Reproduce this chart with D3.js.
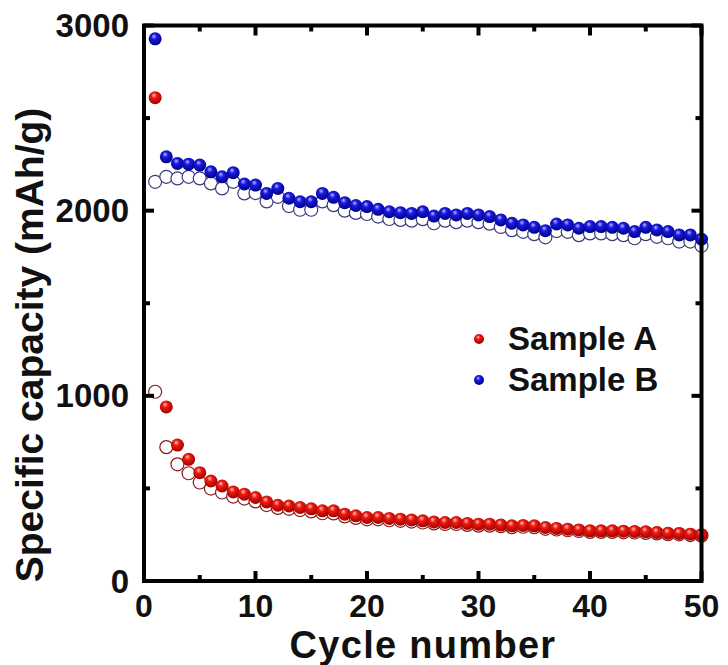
<!DOCTYPE html>
<html>
  <head>
    <meta charset="utf-8">
    <title>Specific capacity vs cycle number</title>
    <script src="https://d3js.org/d3.v7.min.js"></script>
    <style>
      body { margin: 0; background: #fff; }
      text { font-family: "Liberation Sans", Arial, sans-serif; font-weight: bold; fill: #111; }
    </style>
  </head>
  <body>
<script>
// cycle index (x) and capacities in mAh/g
var cycles = [1,2,3,4,5,6,7,8,9,10,11,12,13,14,15,16,17,18,19,20,
              21,22,23,24,25,26,27,28,29,30,31,32,33,34,35,36,37,38,39,40,
              41,42,43,44,45,46,47,48,49,50];

// Sample A, filled spheres (discharge)
var sampleA_dis = [2610,940,734,657,585,540,513,481,469,451,427,409,405,397,390,379,379,361,352,343,
                   343,338,334,330,325,319,316,316,311,307,307,303,298,300,298,289,284,280,276,271,
                   271,271,269,268,266,262,258,257,253,250];
// Sample A, open circles (charge)
var sampleA_chg = [1022,723,630,582,532,499,478,456,445,430,410,395,390,383,376,366,365,349,341,333,
                   333,328,325,321,316,311,308,308,303,299,299,296,291,293,291,282,278,274,270,265,
                   265,265,263,262,260,257,253,252,248,245];
// Sample B, filled spheres (discharge)
var sampleB_dis = [2928,2291,2255,2251,2246,2210,2183,2205,2144,2138,2093,2120,2067,2048,2048,2093,2072,2043,2028,2022,
                   2007,1994,1989,1985,1994,1971,1985,1977,1985,1977,1968,1950,1932,1923,1910,1892,1928,1923,1905,1914,
                   1914,1910,1905,1887,1910,1896,1887,1869,1869,1846];
// Sample B, open circles (charge)
var sampleB_chg = [2156,2183,2174,2183,2174,2147,2120,2156,2093,2095,2050,2075,2025,2005,2005,2050,2030,2000,1988,1982,
                   1968,1955,1950,1946,1954,1932,1946,1938,1946,1938,1930,1912,1895,1886,1873,1856,1890,1886,1868,1877,
                   1877,1873,1868,1851,1873,1859,1851,1833,1833,1810];

var xTicks = [0,10,20,30,40,50],
    xMinor = [5,15,25,35,45],
    yTicks = [0,1000,2000,3000],
    yMinor = [500,1500,2500];

var legendNames = ["Sample A", "Sample B"];

var width = 728,
    height = 665,
    margin = {left: 144, right: 26.5, top: 25.5, bottom: 84},
    r = 6.5;

var svg = d3.select("body").append("svg")
    .attr("width", width)
    .attr("height", height);

var x = d3.scaleLinear().domain([0, 50]).range([margin.left, width - margin.right]);
var y = d3.scaleLinear().domain([0, 3000]).range([height - margin.bottom, margin.top]);

// shiny sphere gradients
var defs = svg.append("defs");
function sphere(id, light, mid, dark) {
  var g = defs.append("radialGradient")
      .attr("id", id)
      .attr("cx", "45%").attr("cy", "40%").attr("r", "60%")
      .attr("fx", "40%").attr("fy", "30%");
  g.append("stop").attr("offset", "0%").attr("stop-color", light);
  g.append("stop").attr("offset", "35%").attr("stop-color", mid);
  g.append("stop").attr("offset", "100%").attr("stop-color", dark);
}
sphere("ballRed", "#ffc8b8", "#ee1a10", "#a00000");
sphere("ballBlue", "#b8b8ff", "#1a1ae0", "#000088");

var plot = svg.append("g");

function hollow(values, color) {
  plot.append("g").selectAll("circle")
    .data(values)
    .enter().append("circle")
      .attr("cx", function(d, i) { return x(cycles[i]); })
      .attr("cy", function(d) { return y(d); })
      .attr("r", r)
      .attr("fill", "#fff")
      .attr("stroke", color)
      .attr("stroke-width", 1.2);
}
function filled(values, grad) {
  plot.append("g").selectAll("circle")
    .data(values)
    .enter().append("circle")
      .attr("cx", function(d, i) { return x(cycles[i]); })
      .attr("cy", function(d) { return y(d); })
      .attr("r", r)
      .attr("fill", "url(#" + grad + ")");
}

hollow(sampleB_chg, "#3a3a7a");
filled(sampleB_dis, "ballBlue");
hollow(sampleA_chg, "#8a1a1a");
filled(sampleA_dis, "ballRed");

// axes: ticks inside on all four sides
var major = 10, minor = 6, sw = 4;
var frame = svg.append("g").attr("stroke", "#000").attr("stroke-width", sw).attr("stroke-linecap", "butt");

function tickLines(vals, len, side) {
  frame.append("g").selectAll("line")
    .data(vals)
    .enter().append("line")
      .attr("x1", function(d) { return side === "b" || side === "t" ? x(d) : (side === "l" ? x(0) : x(50)); })
      .attr("x2", function(d) { return side === "b" || side === "t" ? x(d) : (side === "l" ? x(0) + len : x(50) - len); })
      .attr("y1", function(d) { return side === "l" || side === "r" ? y(d) : (side === "b" ? y(0) : y(3000)); })
      .attr("y2", function(d) { return side === "l" || side === "r" ? y(d) : (side === "b" ? y(0) - len : y(3000) + len); });
}
["b", "t"].forEach(function(s) { tickLines(xTicks, major, s); tickLines(xMinor, minor, s); });
["l", "r"].forEach(function(s) { tickLines(yTicks, major, s); tickLines(yMinor, minor, s); });

frame.append("rect")
  .attr("x", x(0)).attr("y", y(3000))
  .attr("width", x(50) - x(0)).attr("height", y(0) - y(3000))
  .attr("fill", "none");

// tick labels
svg.append("g").selectAll("text")
  .data(xTicks)
  .enter().append("text")
    .attr("x", function(d) { return x(d); })
    .attr("y", y(0) + 36)
    .attr("text-anchor", "middle")
    .attr("font-size", 32)
    .text(function(d) { return d; });

svg.append("g").selectAll("text")
  .data(yTicks)
  .enter().append("text")
    .attr("x", x(0) - 15)
    .attr("y", function(d) { return y(d) + 11.5; })
    .attr("text-anchor", "end")
    .attr("font-size", 33)
    .text(function(d) { return d; });

// axis titles
svg.append("text")
  .attr("x", 423)
  .attr("y", 658)
  .attr("text-anchor", "middle")
  .attr("font-size", 38)
  .attr("letter-spacing", 1.3)
  .text("Cycle number");

svg.append("text")
  .attr("transform", "translate(43," + 345 + ") rotate(-90)")
  .attr("text-anchor", "middle")
  .attr("font-size", 39)
  .text("Specific capacity (mAh/g)");

// legend
var legend = svg.append("g").selectAll("g")
  .data(legendNames)
  .enter().append("g")
    .attr("transform", function(d, i) { return "translate(479," + (339 + i * 41) + ")"; });
legend.append("circle")
  .attr("r", 5)
  .attr("fill", function(d, i) { return i === 0 ? "url(#ballRed)" : "url(#ballBlue)"; });
legend.append("text")
  .attr("x", 29)
  .attr("y", 11)
  .attr("font-size", 33)
  .text(function(d) { return d; });
</script>
  </body>
</html>
